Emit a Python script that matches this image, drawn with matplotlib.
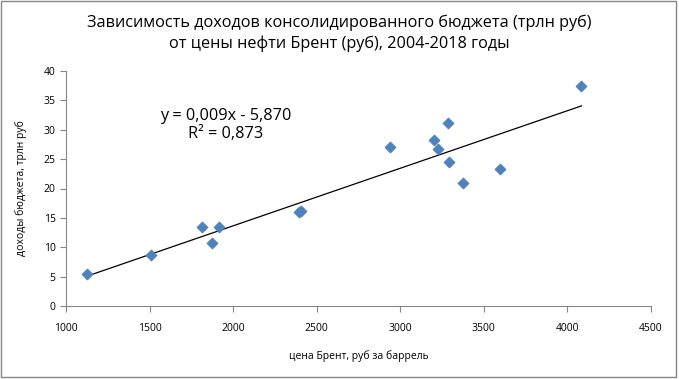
import matplotlib
matplotlib.use("Agg")
import matplotlib.pyplot as plt
import numpy as np

# Brent price in rubles per barrel vs consolidated budget revenue (trillion rub), 2004-2018
brent_rub = [1126, 1507, 1816, 1876, 1914, 2392, 2404, 2941, 3200, 3228,
             3288, 3294, 3378, 3595, 4084]
revenue = [5.4, 8.6, 13.5, 10.7, 13.4, 16.0, 16.2, 27.0, 28.2, 26.8,
           31.1, 24.5, 20.9, 23.4, 37.4]

title = ("Зависимость доходов консолидированного бюджета (трлн руб)\n"
         "от цены нефти Брент (руб), 2004-2018 годы")
xlabel = "цена Брент, руб за баррель"
ylabel = "доходы бюджета, трлн руб"
eq_text = "y = 0,009x - 5,870\nR² = 0,873"

plt.rcParams['font.family'] = ['Open Sans', 'DejaVu Sans']

fig = plt.figure(figsize=(6.79, 3.79), dpi=100)
ax = fig.add_axes([66 / 679, 73 / 379, 585 / 679, 235 / 379])

ax.scatter(brent_rub, revenue, marker='D', s=32, color='#4F81BD',
           edgecolors='#4A7EBB', linewidths=0.5, zorder=3)

# linear trend line over the data range
k, b = np.polyfit(brent_rub, revenue, 1)
xs = np.array([min(brent_rub), max(brent_rub)])
ax.plot(xs, k * xs + b, color='black', lw=0.9, zorder=2)

ax.set_xlim(1000, 4500)
ax.set_ylim(0, 40)
ax.set_xticks(np.arange(1000, 4501, 500))
ax.set_yticks(np.arange(0, 41, 5))

for side in ['top', 'right']:
    ax.spines[side].set_visible(False)
for side in ['left', 'bottom']:
    ax.spines[side].set_color('#868686')
ax.tick_params(direction='out', length=4, color='#868686', labelsize=7.5,
               width=0.8)
ax.tick_params(axis='x', pad=8)

ax.set_xlabel(xlabel, fontsize=7.5, labelpad=12)
ax.set_ylabel(ylabel, fontsize=7.5, labelpad=12)

fig.text(0.5, 0.912, title, ha='center', va='center', fontsize=11.7,
         linespacing=1.4)
ax.text(1957, 30.8, eq_text, ha='center', va='center', fontsize=11.7,
        linespacing=1.15)

# outer chart border
fig.patches.append(plt.Rectangle((0.002, 0.004), 0.994, 0.993,
                                 transform=fig.transFigure, fill=False,
                                 edgecolor='#868686', lw=1))

fig.savefig('out.png', dpi=100)
